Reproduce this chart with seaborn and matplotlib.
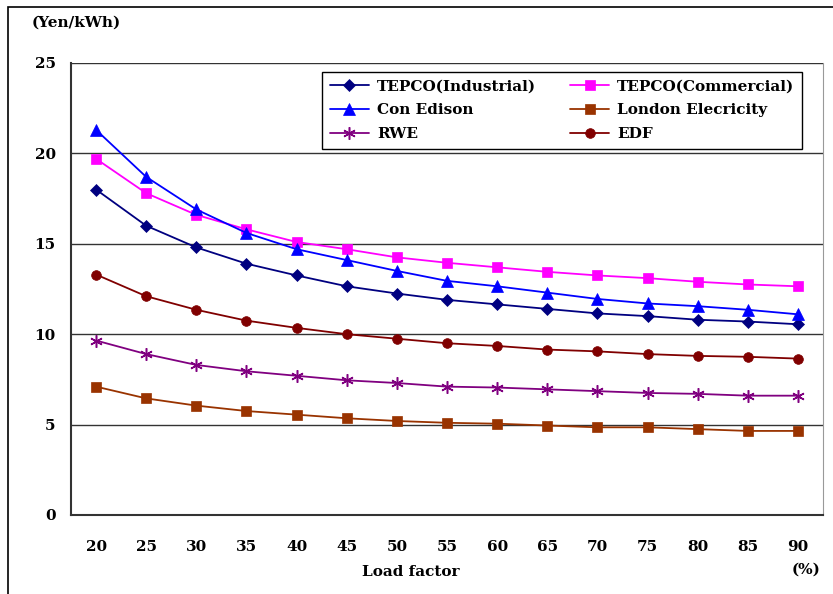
import matplotlib
matplotlib.use("Agg")
import matplotlib.pyplot as plt
import seaborn as sns
import pandas as pd
from matplotlib.patches import Rectangle

load_factor = [20, 25, 30, 35, 40, 45, 50, 55, 60, 65, 70, 75, 80, 85, 90]
tepco_ind = [18.0, 16.0, 14.8, 13.9, 13.25, 12.65, 12.25, 11.9, 11.65, 11.4, 11.15, 11.0, 10.8, 10.7, 10.55]
tepco_com = [19.7, 17.8, 16.6, 15.8, 15.1, 14.7, 14.25, 13.95, 13.7, 13.45, 13.25, 13.1, 12.9, 12.75, 12.65]
con_edison = [21.3, 18.7, 16.9, 15.6, 14.7, 14.1, 13.5, 12.95, 12.65, 12.3, 11.95, 11.7, 11.55, 11.35, 11.1]
london = [7.1, 6.45, 6.05, 5.75, 5.55, 5.35, 5.2, 5.1, 5.05, 4.95, 4.85, 4.85, 4.75, 4.65, 4.65]
rwe = [9.65, 8.9, 8.3, 7.95, 7.7, 7.45, 7.3, 7.1, 7.05, 6.95, 6.85, 6.75, 6.7, 6.6, 6.6]
edf = [13.3, 12.1, 11.35, 10.75, 10.35, 10.0, 9.75, 9.5, 9.35, 9.15, 9.05, 8.9, 8.8, 8.75, 8.65]

series_names = ["TEPCO(Industrial)", "TEPCO(Commercial)", "Con Edison",
                "London Elecricity", "RWE", "EDF"]
series_values = [tepco_ind, tepco_com, con_edison, london, rwe, edf]
colors = ["#000080", "#FF00FF", "#0000FF", "#993300", "#800080", "#800000"]
markers = ["D", "s", "^", "s", (6, 2, 0), "o"]
msizes = [6, 7, 8, 7, 9, 7]

sns.set_style("white")
plt.rcParams["font.family"] = ["DejaVu Serif"]
plt.rcParams["font.weight"] = "bold"
for k in ["text.color", "axes.labelcolor", "xtick.color", "ytick.color"]:
    plt.rcParams[k] = "black"

fig = plt.figure(figsize=(8.33, 5.94), dpi=100)
W, H = 833, 594
ax = fig.add_axes([71 / W, (H - 515) / H, (823 - 71) / W, (515 - 63) / H])

handles = {}
for name, vals, c, m, ms in zip(series_names, series_values, colors, markers, msizes):
    df = pd.DataFrame({"x": load_factor, "y": vals})
    sns.lineplot(data=df, x="x", y="y", ax=ax, color=c, marker=m, markersize=ms,
                 markeredgecolor=c, markeredgewidth=1.1 if m == (6, 2, 0) else 0.5,
                 linewidth=1.3, label=name)
    handles[name] = ax.get_lines()[-1]

ax.set_xlim(17.5, 92.5)
ax.set_ylim(0, 25)
ax.set_yticks([0, 5, 10, 15, 20, 25])
ax.set_xticks(load_factor)
ax.set_xticks([17.5 + 5 * k for k in range(16)], minor=True)
ax.tick_params(axis="x", which="major", length=0, pad=18, labelsize=11)
ax.tick_params(axis="x", which="minor", direction="in", length=5, width=1, color="#333333")
ax.tick_params(axis="y", which="major", direction="in", length=5, width=1, pad=11, labelsize=11, color="#333333")
for lab in ax.get_xticklabels() + ax.get_yticklabels():
    lab.set_fontweight("bold")
ax.grid(axis="y", color="#333333", linewidth=1)
ax.set_axisbelow(True)
ax.set_xlabel("")
ax.set_ylabel("")

ax.spines["top"].set_visible(False)
ax.spines["right"].set_color("#999999")
ax.spines["left"].set_color("#333333")
ax.spines["bottom"].set_color("#333333")
for s in ["left", "bottom"]:
    ax.spines[s].set_linewidth(1.5)

order = ["TEPCO(Industrial)", "Con Edison", "RWE",
         "TEPCO(Commercial)", "London Elecricity", "EDF"]
leg = ax.legend([handles[n] for n in order], order, ncol=2, loc="upper right",
                bbox_to_anchor=(0.972, 0.981), borderaxespad=0, frameon=True, fancybox=False,
                edgecolor="black", framealpha=1, borderpad=0.5, handlelength=2.6,
                labelspacing=0.65, columnspacing=2.2, handletextpad=0.5,
                prop={"family": "DejaVu Serif", "weight": "bold", "size": 11})
leg.get_frame().set_linewidth(1)

fig.text(32 / W, 1 - 23 / H, "(Yen/kWh)", fontsize=11, fontweight="bold", ha="left", va="center")
fig.text(411 / W, 1 - 572 / H, "Load factor", fontsize=11, fontweight="bold", ha="center", va="center")
fig.text(806 / W, 1 - 570 / H, "(%)", fontsize=11, fontweight="bold", ha="center", va="center")

fig.patches.append(Rectangle((8 / W, -0.1), 1.2, 1.1 - 7 / H, transform=fig.transFigure,
                             fill=False, edgecolor="black", linewidth=1.2))

fig.savefig("out.png", dpi=100)
